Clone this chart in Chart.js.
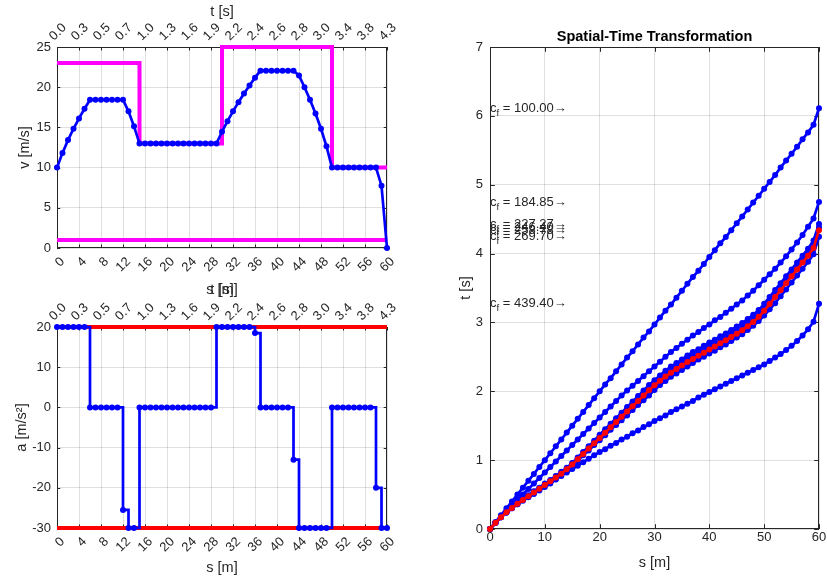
<!DOCTYPE html>
<html>
<head>
<meta charset="utf-8">
<script src="https://cdn.jsdelivr.net/npm/chart.js@4.4.0/dist/chart.umd.min.js"></script>
<style>
  html, body { margin: 0; padding: 0; background: #fff; }
  #fig { position: relative; width: 827px; height: 581px; overflow: hidden; background: #fff; }
  #fig canvas { position: absolute; }
</style>
</head>
<body>
<div id="fig">
  <canvas id="velChart" width="410" height="300" style="left:0;top:0"></canvas>
  <canvas id="accChart" width="410" height="301" style="left:0;top:280px"></canvas>
  <canvas id="stChart" width="407" height="581" style="left:420px;top:0"></canvas>
</div>
<script>
// position along the path [m], one sample per metre
const sPos = [0,1,2,3,4,5,6,7,8,9,10,11,12,13,14,15,16,17,18,19,20,21,22,23,24,25,26,27,28,29,30,
  31,32,33,34,35,36,37,38,39,40,41,42,43,44,45,46,47,48,49,50,51,52,53,54,55,56,57,58,59,60];

// speed profile [m/s]
const vProfile = [10,11.83,13.42,14.83,16.12,17.32,18.44,18.44,18.44,18.44,18.44,18.44,18.44,17.0,15.13,
  13,13,13,13,13,13,13,13,13,13,13,13,13,13,13,
  14.46,15.78,17.0,18.14,19.21,20.22,21.19,22.05,22.05,22.05,22.05,22.05,22.05,22.05,
  21.45,20.0,18.44,16.73,14.83,12.65,10,10,10,10,10,10,10,10,10,7.75,0];

// acceleration per segment [m/s^2]
const aProfile = [20,20,20,20,20,20,0,0,0,0,0,0,-25.5,-30,-30,
  0,0,0,0,0,0,0,0,0,0,0,0,0,0,
  20,20,20,20,20,20,20,18.5,0,0,0,0,0,0,-13,-30,-30,-30,-30,-30,-30,
  0,0,0,0,0,0,0,0,-20,-30,-30];

// speed limits
const limitS = [0, 15, 30, 50, 60];
const vMaxLimit = [23, 13, 25, 10, 10];
const vMinLimit = [1, 1, 1, 1, 1];

// acceleration limits
const aLimitS = [0, 60];
const aMaxLimit = [20, 20];
const aMinLimit = [-30, -30];

// time labels for the upper s axis
const tTickLabels = ['0.0','0.3','0.5','0.7','1.0','1.3','1.6','1.9','2.2','2.4','2.6','2.8','3.0','3.4','3.8','4.3'];

// t(s) for each weight c_f
const tCf100 = [0,0.10,0.20,0.30,0.40,0.50,0.60,0.70,0.80,0.90,1.00,1.10,1.20,1.30,1.40,1.50,1.60,1.70,1.80,1.90,2.00,
  2.10,2.19,2.29,2.39,2.49,2.58,2.68,2.78,2.87,2.97,3.07,3.17,3.26,3.36,3.46,3.56,3.66,3.75,3.85,3.95,
  4.05,4.15,4.24,4.34,4.44,4.54,4.64,4.74,4.84,4.94,5.04,5.14,5.25,5.35,5.45,5.55,5.66,5.76,5.87,6.11];
const tCf18485 = [0,0.09,0.18,0.26,0.34,0.42,0.50,0.58,0.66,0.74,0.82,0.90,0.98,1.06,1.14,1.22,1.30,1.38,1.46,1.54,1.62,
  1.70,1.78,1.86,1.94,2.01,2.08,2.15,2.22,2.29,2.36,2.43,2.50,2.57,2.63,2.69,2.75,2.81,2.86,2.92,2.97,
  3.03,3.08,3.14,3.20,3.26,3.32,3.39,3.46,3.54,3.62,3.70,3.78,3.87,3.96,4.06,4.16,4.27,4.39,4.51,4.75];
const tCf22727 = [0,0.09,0.17,0.25,0.31,0.38,0.43,0.49,0.55,0.60,0.66,0.71,0.77,0.83,0.89,0.96,1.04,1.12,1.20,1.28,1.37,
  1.45,1.53,1.61,1.69,1.77,1.85,1.93,2.01,2.09,2.16,2.23,2.30,2.36,2.41,2.46,2.52,2.57,2.61,2.66,2.71,
  2.75,2.80,2.84,2.89,2.94,2.99,3.05,3.11,3.18,3.27,3.37,3.47,3.57,3.67,3.77,3.87,3.97,4.07,4.19,4.43];
const tCf24640 = [0,0.09,0.17,0.24,0.31,0.37,0.43,0.48,0.54,0.59,0.65,0.70,0.76,0.82,0.88,0.95,1.03,1.11,1.19,1.26,1.34,
  1.42,1.50,1.58,1.66,1.74,1.82,1.89,1.97,2.05,2.12,2.19,2.25,2.31,2.36,2.41,2.46,2.51,2.55,2.60,2.65,
  2.69,2.74,2.78,2.83,2.88,2.93,2.99,3.05,3.13,3.21,3.31,3.41,3.51,3.61,3.71,3.81,3.91,4.01,4.13,4.38];
const tCf26970 = [0,0.09,0.17,0.24,0.30,0.36,0.42,0.47,0.52,0.58,0.63,0.68,0.73,0.79,0.85,0.92,0.99,1.07,1.14,1.22,1.29,
  1.36,1.44,1.51,1.58,1.65,1.73,1.80,1.87,1.94,2.02,2.09,2.15,2.21,2.26,2.31,2.36,2.41,2.46,2.50,2.55,
  2.59,2.64,2.68,2.73,2.78,2.83,2.89,2.95,3.02,3.10,3.19,3.28,3.38,3.48,3.58,3.68,3.78,3.88,3.99,4.245];
const tCf43940 = [0,0.09,0.17,0.24,0.30,0.36,0.41,0.46,0.51,0.56,0.61,0.66,0.72,0.77,0.82,0.87,0.92,0.97,1.02,1.07,1.12,
  1.16,1.21,1.25,1.30,1.34,1.39,1.43,1.48,1.52,1.57,1.61,1.65,1.70,1.74,1.78,1.82,1.86,1.91,1.95,1.99,
  2.03,2.07,2.11,2.15,2.19,2.23,2.27,2.31,2.35,2.39,2.44,2.49,2.54,2.60,2.66,2.73,2.81,2.90,3.01,3.27];
// chosen profile (red)
const tChosen = [0,0.092,0.171,0.242,0.306,0.366,0.422,0.476,0.530,0.585,0.639,0.693,0.747,0.804,0.866,0.937,
  1.014,1.091,1.168,1.245,1.322,1.399,1.476,1.553,1.630,1.706,1.783,1.860,1.937,2.014,2.087,2.153,2.214,
  2.271,2.325,2.375,2.424,2.470,2.515,2.561,2.606,2.651,2.697,2.742,2.788,2.836,2.888,2.945,3.008,3.081,
  3.169,3.269,3.369,3.469,3.569,3.669,3.769,3.869,3.969,4.082,4.340];

const cfLabels = ['100.00','184.85','227.27','246.40','258.78','269.70','439.40'];
const cfCurves = [tCf100, tCf18485, tCf22727, tCf24640, tChosen, tCf26970, tCf43940];
const blueCurves = [tCf100, tCf18485, tCf22727, tCf24640, tCf26970, tCf43940];

const FONT = '"Liberation Sans", Arial, Helvetica, sans-serif';
const TXT = '#262626';
const GRID = 'rgba(38,38,38,0.15)';
const BLUE = '#0000ff';
const DOT = 3;

Chart.defaults.font.family = FONT;
Chart.defaults.color = TXT;
Chart.defaults.animation = false;

const pts = (xs, ys) => xs.map((x, i) => ({ x: x, y: ys[i] }));

// force axis box sizes so the plot areas line up
function fixSize(w, h) {
  return function (scale) {
    if (w != null) scale.width = w;
    if (h != null) scale.height = h;
    scale.paddingLeft = scale.paddingRight = scale.paddingTop = scale.paddingBottom = 0;
  };
}

// box around the axes plus inward ticks on all four sides
const framePlugin = {
  id: 'frame',
  beforeDatasetsDraw(chart, args, opts) {
    const { ctx, chartArea: a } = chart;
    const len = opts.tickLen || 3;
    ctx.save();
    ctx.strokeStyle = TXT;
    ctx.lineWidth = 1;
    ctx.strokeRect(a.left + 0.5, a.top + 0.5, a.right - a.left - 1, a.bottom - a.top - 1);
    ctx.beginPath();
    Object.values(chart.scales).forEach(sc => {
      sc.ticks.forEach(t => {
        const p = Math.round(sc.getPixelForValue(t.value)) + 0.5;
        if (sc.isHorizontal()) {
          ctx.moveTo(p, a.top); ctx.lineTo(p, a.top + len);
          ctx.moveTo(p, a.bottom); ctx.lineTo(p, a.bottom - len);
        } else {
          ctx.moveTo(a.left, p); ctx.lineTo(a.left + len, p);
          ctx.moveTo(a.right, p); ctx.lineTo(a.right - len, p);
        }
      });
    });
    ctx.stroke();
    ctx.restore();
  }
};

function tickOpts(extra) {
  return Object.assign({
    autoSkip: false,
    font: { size: 13 },
    color: TXT,
    showLabelBackdrop: true,
    backdropColor: 'rgba(0,0,0,0)',
    backdropPadding: 0
  }, extra);
}

function titleOpts(text, pad) {
  return { display: true, text: text, color: TXT, font: { size: 14.5 }, padding: pad };
}

function sAxes(yCfg) {
  return {
    x: {
      type: 'linear', position: 'bottom', min: 0, max: 60,
      ticks: tickOpts({ stepSize: 4, minRotation: 45, maxRotation: 45, padding: 6 }),
      grid: { color: GRID, drawTicks: false },
      border: { display: false },
      title: titleOpts('s [m]', yCfg.bottomTitlePad),
      afterFit: fixSize(null, yCfg.bottomH)
    },
    xTop: {
      type: 'linear', position: 'top', min: 0, max: 60,
      ticks: tickOpts({ stepSize: 4, minRotation: 45, maxRotation: 45, padding: 3,
        callback: (v, i) => tTickLabels[i] }),
      grid: { display: false, drawTicks: false },
      border: { display: false },
      title: titleOpts('t [s]', { top: yCfg.topTitlePad, bottom: 0 }),
      afterFit: fixSize(null, 47)
    },
    y: {
      type: 'linear', position: 'left', min: yCfg.min, max: yCfg.max,
      ticks: tickOpts({ stepSize: yCfg.step, padding: 6, showLabelBackdrop: false }),
      grid: { color: GRID, drawTicks: false },
      border: { display: false },
      title: titleOpts(yCfg.title, { top: yCfg.yTitlePad, bottom: 0 }),
      afterFit: fixSize(57, null)
    }
  };
}

const noChrome = {
  legend: { display: false },
  tooltip: { enabled: false },
  frame: { tickLen: 3.3 }
};

// speed over distance
new Chart(document.getElementById('velChart'), {
  type: 'line',
  data: {
    datasets: [
      { data: pts(sPos, vProfile), borderColor: BLUE, backgroundColor: BLUE, borderWidth: 2.7,
        pointRadius: DOT, pointBorderWidth: 0, tension: 0, clip: false },
      { data: pts(limitS, vMaxLimit), borderColor: '#ff00ff', borderWidth: 4, pointRadius: 0,
        stepped: 'before', clip: false },
      { data: pts(limitS, vMinLimit), borderColor: '#ff00ff', borderWidth: 4, pointRadius: 0,
        stepped: 'before', clip: false }
    ]
  },
  options: {
    responsive: false, devicePixelRatio: 1,
    layout: { padding: { left: 0, right: 23, top: 0, bottom: 0 } },
    plugins: noChrome,
    scales: sAxes({ min: 0, max: 25, step: 5, title: 'v [m/s]', yTitlePad: 16.3,
      bottomH: 52, bottomTitlePad: { top: 0, bottom: 1.3 }, topTitlePad: 3 })
  },
  plugins: [framePlugin]
});

// acceleration over distance
new Chart(document.getElementById('accChart'), {
  type: 'line',
  data: {
    datasets: [
      { data: pts(sPos, aProfile), borderColor: BLUE, backgroundColor: BLUE, borderWidth: 2.7,
        pointRadius: DOT, pointBorderWidth: 0, stepped: 'before', clip: false },
      { data: pts(aLimitS, aMaxLimit), borderColor: '#ff0000', borderWidth: 4, pointRadius: 0, clip: false },
      { data: pts(aLimitS, aMinLimit), borderColor: '#ff0000', borderWidth: 4, pointRadius: 0, clip: false }
    ]
  },
  options: {
    responsive: false, devicePixelRatio: 1,
    layout: { padding: { left: 0, right: 23, top: 0, bottom: 0 } },
    plugins: noChrome,
    scales: sAxes({ min: -30, max: 20, step: 10, title: 'a [m/s\u00b2]', yTitlePad: 13.3,
      bottomH: 53, bottomTitlePad: { top: 0, bottom: 4.3 }, topTitlePad: 1.3 })
  },
  plugins: [framePlugin]
});

// title and c_f annotations for the s-t plot
const stTextPlugin = {
  id: 'stText',
  afterDatasetsDraw(chart) {
    const { ctx, chartArea: a, scales } = chart;
    ctx.save();
    ctx.fillStyle = '#000';
    ctx.font = 'bold 14.5px ' + FONT;
    ctx.textAlign = 'center';
    ctx.textBaseline = 'middle';
    ctx.fillText('Spatial-Time Transformation', (a.left + a.right) / 2, 37);

    ctx.fillStyle = TXT;
    ctx.textAlign = 'left';
    cfCurves.forEach((curve, i) => {
      const x = scales.x.getPixelForValue(0);
      const y = scales.y.getPixelForValue(curve[curve.length - 1]);
      ctx.font = '13px ' + FONT;
      ctx.fillText('c', x, y);
      const cw = ctx.measureText('c').width;
      ctx.font = '9.5px ' + FONT;
      ctx.fillText('f', x + cw, y + 5);
      const fw = ctx.measureText('f').width;
      ctx.font = '13px ' + FONT;
      ctx.fillText(' = ' + cfLabels[i] + '\u2192', x + cw + fw, y);
    });
    ctx.restore();
  }
};

const stSets = [{ data: pts(sPos, tChosen), borderColor: '#ff0000', backgroundColor: '#ff0000',
  borderWidth: 2.7, pointRadius: DOT, pointBorderWidth: 0, clip: false }];
blueCurves.forEach(c => stSets.push({ data: pts(sPos, c), borderColor: BLUE, backgroundColor: BLUE,
  borderWidth: 2.7, pointRadius: DOT, pointBorderWidth: 0, clip: false }));

new Chart(document.getElementById('stChart'), {
  type: 'line',
  data: { datasets: stSets },
  options: {
    responsive: false, devicePixelRatio: 1,
    layout: { padding: { left: 0, right: 8, top: 47, bottom: 0 } },
    plugins: { legend: { display: false }, tooltip: { enabled: false }, frame: { tickLen: 4.8 } },
    scales: {
      x: {
        type: 'linear', position: 'bottom', min: 0, max: 60,
        ticks: tickOpts({ stepSize: 10, maxRotation: 0, padding: 1, showLabelBackdrop: false }),
        grid: { color: GRID, drawTicks: false },
        border: { display: false },
        title: titleOpts('s [m]', { top: 0, bottom: 9.3 }),
        afterFit: fixSize(null, 52)
      },
      y: {
        type: 'linear', position: 'left', min: 0, max: 7,
        ticks: tickOpts({ stepSize: 1, padding: 7, showLabelBackdrop: false }),
        grid: { color: GRID, drawTicks: false },
        border: { display: false },
        title: titleOpts('t [s]', { top: 37.3, bottom: 0 }),
        afterFit: fixSize(70, null)
      }
    }
  },
  plugins: [framePlugin, stTextPlugin]
});
</script>
</body>
</html>
